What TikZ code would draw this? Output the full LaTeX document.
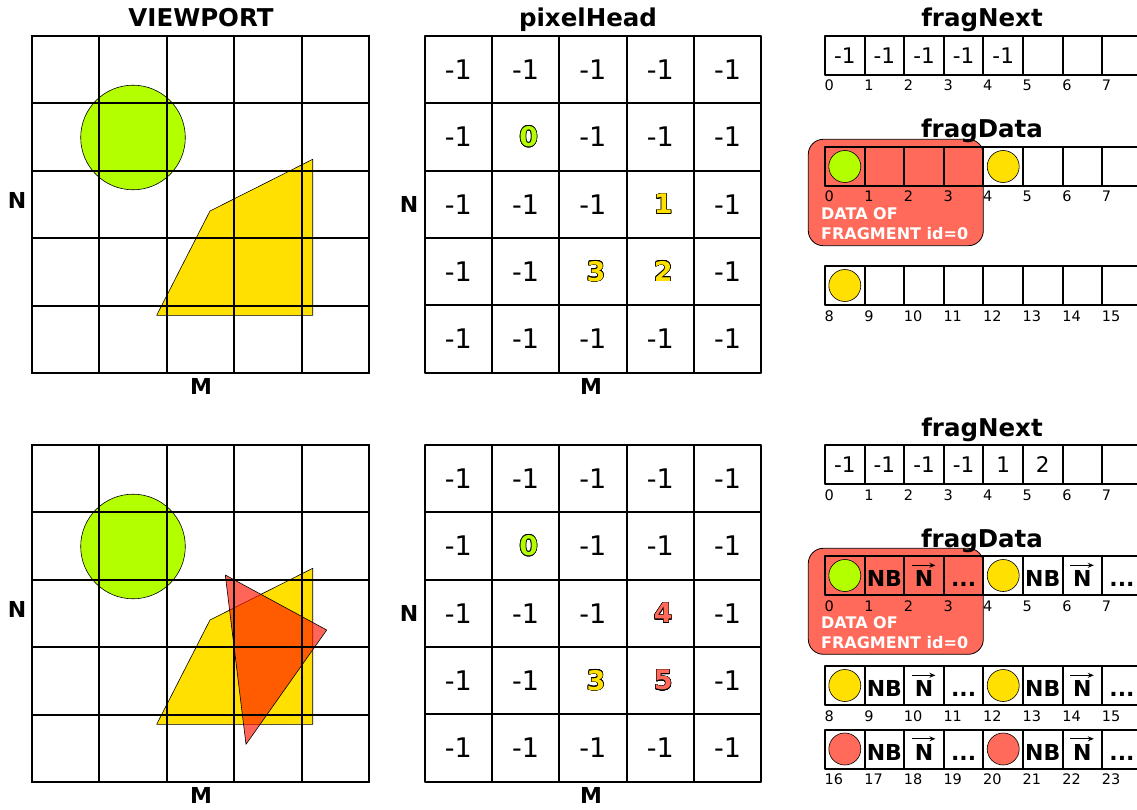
\documentclass[tikz,border=0pt]{standalone}
\usepackage{fontspec}
\setmainfont{DejaVu Sans}
\usepackage{contour}
\contourlength{0.6pt}
\usetikzlibrary{arrows.meta,positioning}

\definecolor{limeg}{RGB}{179,255,0}
\definecolor{goldy}{RGB}{255,224,0}
\definecolor{tomatoR}{RGB}{255,106,90}
\definecolor{redtri}{RGB}{255,20,0}

\newcommand\fsz[1]{\fontsize{#1}{#1}\selectfont}
\newcommand\hnum[2]{\kern6pt{\bfseries\color{#1}\contour{black}{#2}}}
\newcommand\more{...}
\newcommand\nix{}
\newcommand\arow[5]{%
  \foreach \v [count=\cl from 0] in {#5} {%
    \pgfmathtruncatemacro\k{#3+\cl}%
    \node[#4] (#1-\cl) at ({825+39.6*(\cl+0.5)},{#2+19.5}) {\v};
    \node[idx] (#1-n\cl) at ([yshift=-15pt]#1-\cl.south west) {\k};
  }}

\begin{document}
\begin{tikzpicture}[x=1pt, y=-1pt, line join=round,
  title/.style={font=\bfseries\fsz{24.5}, anchor=base, inner sep=0},
  axis/.style={font=\bfseries\fsz{22}, inner sep=0},
  gridline/.style={line width=2pt, line cap=rect},
  phcell/.style={draw, line width=2pt, minimum size=67.3pt, inner sep=0, font=\fsz{27}},
  acell/.style={draw, line width=2pt, minimum width=39.6pt, minimum height=39pt, inner sep=0},
  vcell/.style={acell, font=\fsz{21.5}},
  bcell/.style={acell, font=\bfseries\fsz{22}, text height=22pt, text depth=0pt},
  blob/.style={circle, draw, line width=0.6pt, minimum size=32pt, inner sep=0, fill=#1},
  idx/.style={font=\fsz{14.5}, anchor=base west, inner sep=0, xshift=0.5pt},
  vecarrow/.style={-{Stealth[length=6pt, width=5pt]}, line width=1.1pt},
  fragbox/.style={draw, line width=0.8pt, fill=tomatoR, rounded corners=15pt},
  boxtext/.style={font=\bfseries\fontsize{16}{20}\selectfont, text=white, align=left, anchor=north west, inner sep=0}]
\useasboundingbox (0,0) rectangle (1137,810);
\fill[white] (0,0) rectangle (1137,810);

\foreach \oy in {36,445} {
  \draw[fill=limeg, line width=0.6pt] (133,\oy+101.5) circle[radius=52.3];
  \draw[fill=goldy, line width=0.6pt] (156.7,\oy+279.3) -- (210,\oy+175) -- (312.7,\oy+123.3) -- (312.7,\oy+279.3) -- cycle;
}
\draw[fill=redtri, fill opacity=0.65, line width=0.6pt] (225.3,575) -- (326.7,630) -- (246,744.3) -- cycle;
\foreach \oy in {36,445} \foreach \s in {0,...,5} {
  \draw[gridline] ({32+67.4*\s},\oy) -- ++(0,337);
  \draw[gridline] (32,{\oy+67.4*\s}) -- ++(337,0);
}

\foreach \vals [count=\rw from 0] in {{-1,-1,-1,-1,-1},{-1,\hnum{limeg}{0},-1,-1,-1},{-1,-1,-1,\hnum{goldy}{1},-1},{-1,-1,\hnum{goldy}{3},\hnum{goldy}{2},-1},{-1,-1,-1,-1,-1}}
  \foreach \v [count=\cl from 0] in \vals
    \node[phcell] (pt-\rw\cl) at ({424.7+67.3*(\cl+0.5)},{36+67.3*(\rw+0.5)}) {\v};
\foreach \vals [count=\rw from 0] in {{-1,-1,-1,-1,-1},{-1,\hnum{limeg}{0},-1,-1,-1},{-1,-1,-1,\hnum{tomatoR}{4},-1},{-1,-1,\hnum{goldy}{3},\hnum{tomatoR}{5},-1},{-1,-1,-1,-1,-1}}
  \foreach \v [count=\cl from 0] in \vals
    \node[phcell] (pb-\rw\cl) at ({424.7+67.3*(\cl+0.5)},{445+67.3*(\rw+0.5)}) {\v};

\node[title] (vp) at (201,27) {VIEWPORT};
\node[title] (ph) at (588,27) {pixelHead};
\node[title] (fnt) at (982,27) {fragNext};
\node[title] (fnb) at (982,436.7) {fragNext};
\node[axis] (vn-t) at (17,200.5) {N};
\node[axis] (vm-t) at (201,386) {M};
\node[axis] (pn-t) at (409,204.5) {N};
\node[axis] (pm-t) at (591,386.5) {M};
\node[axis] (vn-b) at (17,609.5) {N};
\node[axis] (vm-b) at (201,795) {M};
\node[axis] (pn-b) at (409,613.5) {N};
\node[axis] (pm-b) at (591,795.5) {M};

\draw[fragbox] (808.3,139.3) rectangle (983.3,245.7);
\draw[fragbox] (808.3,548.3) rectangle (983.3,654.3);
\node[title] (fdt) at (982,137.7) {fragData};
\node[title] (fdb) at (982,547.7) {fragData};

\arow{fn-t}{36}{0}{vcell}{-1,-1,-1,-1,-1,\nix,\nix,\nix}
\arow{fd-t0}{147}{0}{bcell}{\nix,\nix,\nix,\nix,\nix,\nix,\nix,\nix}
\arow{fd-t1}{266}{8}{bcell}{\nix,\nix,\nix,\nix,\nix,\nix,\nix,\nix}
\arow{fn-b}{445}{0}{vcell}{-1,-1,-1,-1,1,2,\nix,\nix}
\arow{fd-b0}{556}{0}{bcell}{\nix,NB,N,\more,\nix,NB,N,\more}
\arow{fd-b1}{666}{8}{bcell}{\nix,NB,N,\more,\nix,NB,N,\more}
\arow{fd-b2}{729.5}{16}{bcell}{\nix,NB,N,\more,\nix,NB,N,\more}
\foreach \c in {fd-b0-2,fd-b0-6,fd-b1-2,fd-b1-6,fd-b2-2,fd-b2-6}
  \draw[vecarrow] ([shift={(-12pt,10.2pt)}]\c.center) -- ([shift={(11.4pt,10.2pt)}]\c.center);

\node[blob=limeg] (ct-0) at (fd-t0-0) {};
\node[blob=goldy] (ct-4) at (fd-t0-4) {};
\node[blob=goldy] (ct-8) at (fd-t1-0) {};
\node[blob=limeg] (cb-0) at (fd-b0-0) {};
\node[blob=goldy] (cb-4) at (fd-b0-4) {};
\node[blob=goldy] (cb-8) at (fd-b1-0) {};
\node[blob=goldy] (cb-12) at (fd-b1-4) {};
\node[blob=tomatoR] (cb-16) at (fd-b2-0) {};
\node[blob=tomatoR] (cb-20) at (fd-b2-4) {};

\node[boxtext] (bt-t) at (821,207) {DATA OF\\FRAGMENT id=0};
\node[boxtext] (bt-b) at (821,616) {DATA OF\\FRAGMENT id=0};
\end{tikzpicture}
\end{document}
